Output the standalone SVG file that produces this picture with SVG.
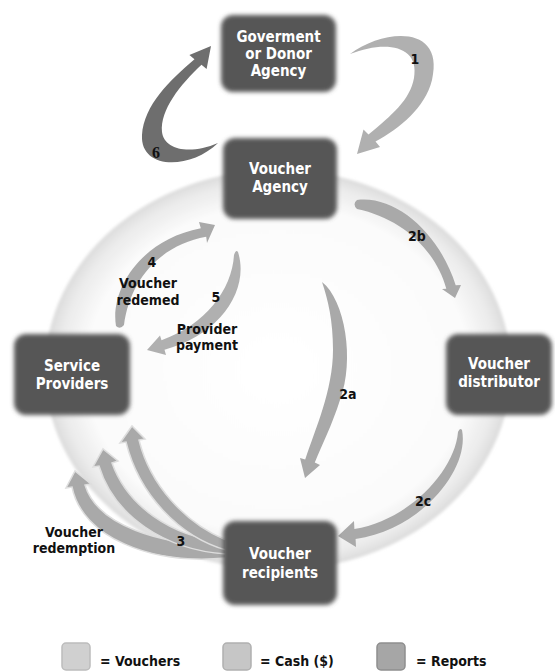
<svg xmlns="http://www.w3.org/2000/svg" width="555" height="672" viewBox="0 0 555 672">
<defs>
<radialGradient id="disc" cx="0.5" cy="0.5" r="0.5">
<stop offset="0" stop-color="#ffffff"/>
<stop offset="0.82" stop-color="#fbfbfb"/>
<stop offset="0.94" stop-color="#ebebeb"/>
<stop offset="1" stop-color="#dcdcdc"/>
</radialGradient>
<filter id="soft" x="-20%" y="-20%" width="140%" height="140%">
<feGaussianBlur stdDeviation="2.2"/>
</filter>
<filter id="soft1" x="-20%" y="-20%" width="140%" height="140%">
<feGaussianBlur stdDeviation="1.5"/>
</filter>
</defs>
<style>
.node rect{fill:#575757;filter:url(#soft);}
.node text{fill:#ffffff;font-family:"DejaVu Sans Condensed","Liberation Sans Narrow","DejaVu Sans",sans-serif;font-stretch:condensed;font-weight:bold;font-size:15px;text-anchor:middle;}
.lbl{fill:#111111;font-family:"DejaVu Sans Condensed","Liberation Sans Narrow","DejaVu Sans",sans-serif;font-stretch:condensed;font-weight:bold;font-size:14px;text-anchor:middle;}
.voucher{fill:#a9a9a9;}
.cash{fill:#b0b0b0;}
.report{fill:#6e6e6e;}
.fan{fill:#a9a9a9;stroke:#dedede;stroke-width:1.5;}
.leg{font-family:"DejaVu Sans Condensed","Liberation Sans Narrow","DejaVu Sans",sans-serif;font-stretch:condensed;font-weight:bold;font-size:14px;fill:#111111;}
</style>
<rect width="555" height="672" fill="#ffffff"/>
<ellipse cx="278" cy="370" rx="233" ry="200" fill="url(#disc)" filter="url(#soft1)"/>

<g id="connectors">
<path class="cash" d="M350,54 C385,28 445,25 432,80 C425,108 400,128 375.5,141.5 L380,147 L357,154 L363.5,129.5 L368.5,134.5 C392,115 410,100 414,78 C420,45 385,40 350,54 Z"/>
<path class="report" d="M218,143 C190,170 140,170 142,135 C144,105 170,80 194.5,59.2 L189.4,55.1 L211,46 L206.6,68.9 L201.5,64.8 C180,85 160,110 162,132 C164,150 190,155 218,143 Z"/>
<path class="voucher" d="M357,200 C397,195 440,235 455.7,285.3 L461,285 L455,298 L442,289 L446.3,288.7 C435,248 400,218 357,209 Q352,204 357,200 Z"/>
<path class="voucher" d="M322,282 C345,300 355,360 340,400 C332,425 322,445 314.8,462.4 L320,465 L305,478 L300,458 L305.2,459.6 C315,430 333,390 333,350 C333,320 328,300 322,282 Z"/>
<path class="voucher" d="M462,430 C470,470 420,530 355.6,539 L356,547 L338,536 L354,521 L354.4,529 C410,520 455,470 458,432 Q460,427 462,430 Z"/>
<path class="voucher" d="M116,326 C110,290 140,240 200.8,228.3 L199,222 L215,225 L207,243 L206.2,236.7 C160,245 130,280 124,325 Q120,330 116,326 Z"/>
<path class="cash" d="M238,252 C250,290 220,335 164.5,349.8 L166,355 L147,350 L160,335.5 L161.5,340.2 C205,325 232,290 234,255 Q236,249 238,252 Z"/>
<path class="fan" d="M226,558 C150,565 82,537 72,487 L66,488 L75,471 L91,484 L85,485 C97,525 160,546 226,544 Z"/>
<path class="fan" d="M226,554 C165,550 114,516 99,466 L93,467 L103,449 L118,461 L112,463 C127,505 170,537 226,542 Z"/>
<path class="fan" d="M226,550 C180,537 139,495 126,442 L120,443 L132,426 L145,439 L139,440 C150,485 185,523 226,540 Z"/>
<text class="lbl" x="415" y="64">1</text>
<text class="lbl" x="156" y="158" style="font-family:'Liberation Serif',serif;font-size:16px">6</text>
<text class="lbl" x="417" y="241">2b</text>
<text class="lbl" x="348" y="399">2a</text>
<text class="lbl" x="423" y="506">2c</text>
<text class="lbl" x="152" y="267">4</text>
<text class="lbl" x="148" y="288">Voucher</text>
<text class="lbl" x="148" y="305">redemed</text>
<text class="lbl" x="216" y="302">5</text>
<text class="lbl" x="207" y="334">Provider</text>
<text class="lbl" x="207" y="350">payment</text>
<text class="lbl" x="181" y="546">3</text>
<text class="lbl" x="74" y="537">Voucher</text>
<text class="lbl" x="74" y="553">redemption</text>
</g>

<g id="gov" class="node">
<rect x="221" y="15" width="115" height="77" rx="12"/>
<text x="278.5" y="42">Goverment</text>
<text x="278.5" y="59">or Donor</text>
<text x="278.5" y="76">Agency</text>
</g>
<g id="voucher-agency" class="node">
<rect x="223" y="138" width="114" height="81" rx="12"/>
<text x="280" y="174">Voucher</text>
<text x="280" y="192">Agency</text>
</g>
<g id="service-providers" class="node">
<rect x="14" y="334" width="116" height="81" rx="12"/>
<text x="72" y="371">Service</text>
<text x="72" y="389">Providers</text>
</g>
<g id="voucher-distributor" class="node">
<rect x="446" y="334" width="106" height="81" rx="12"/>
<text x="499" y="369">Voucher</text>
<text x="499" y="387">distributor</text>
</g>
<g id="voucher-recipients" class="node">
<rect x="223" y="521" width="114" height="84" rx="12"/>
<text x="280" y="559">Voucher</text>
<text x="280" y="578">recipients</text>
</g>

<g id="legend">
<rect x="62" y="643" width="28" height="27" rx="4" fill="#d0d0d0" stroke="#bcbcbc" stroke-width="1.5"/>
<text class="leg" x="100" y="666">= Vouchers</text>
<rect x="223" y="643" width="28" height="27" rx="4" fill="#c6c6c6" stroke="#b0b0b0" stroke-width="1.5"/>
<text class="leg" x="260" y="666">= Cash ($)</text>
<rect x="377" y="643" width="28" height="27" rx="4" fill="#a6a6a6" stroke="#8e8e8e" stroke-width="1.5"/>
<text class="leg" x="416" y="666">= Reports</text>
</g>
</svg>
